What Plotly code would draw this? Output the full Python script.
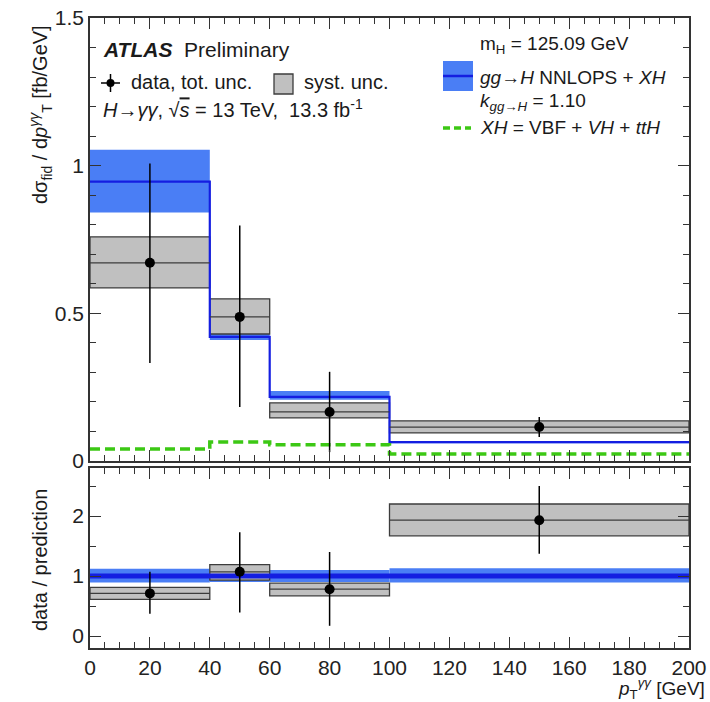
import plotly.graph_objects as go

# ---------------- data ----------------
bin_edges = [0, 40, 60, 100, 200]
data_val = [0.671, 0.488, 0.166, 0.115]
data_err_up = [0.336, 0.309, 0.136, 0.034]
data_err_dn = [0.339, 0.305, 0.136, 0.034]
syst_lo = [0.586, 0.430, 0.146, 0.095]
syst_hi = [0.759, 0.549, 0.197, 0.136]
pred_val = [0.946, 0.420, 0.217, 0.064]
pred_lo = [0.841, 0.410, 0.207, 0.060]
pred_hi = [1.054, 0.430, 0.237, 0.068]
xh_val = [0.041, 0.064, 0.055, 0.024]

ratio_val = [0.71, 1.07, 0.78, 1.93]
ratio_err_up = [0.36, 0.66, 0.62, 0.57]
ratio_err_dn = [0.34, 0.68, 0.61, 0.56]
ratio_syst_lo = [0.61, 0.93, 0.67, 1.67]
ratio_syst_hi = [0.81, 1.19, 0.88, 2.20]
ratio_pred_lo = [0.89, 0.90, 0.90, 0.89]
ratio_pred_hi = [1.12, 1.10, 1.10, 1.13]
ratio_pred_val = [1.0, 1.0, 1.0, 1.0]

x_tick_vals = [0, 20, 40, 60, 80, 100, 120, 140, 160, 180, 200]
y_tick_vals = [0, 0.5, 1, 1.5]
y_tick_text = ["0", "0.5", "1", "1.5"]
r_tick_vals = [0, 1, 2]

# ---------------- helpers ----------------
centers = [(a + b) / 2 for a, b in zip(bin_edges[:-1], bin_edges[1:])]
widths = [b - a for a, b in zip(bin_edges[:-1], bin_edges[1:])]

W, H = 710, 702
ML, MR, MT, MB = 90, 21, 18, 54
PW, PH = W - ML - MR, H - MT - MB


def px(xp):
    return (xp - ML) / PW


def py(yp):
    return (H - MB - yp) / PH


BLUE_BAND = "rgb(74,126,245)"
BLUE_LINE = "rgb(20,30,225)"
GREY_FILL = "rgb(192,192,192)"
GREY_LINE = "rgb(60,60,60)"
GREEN = "rgb(60,200,20)"
FONT = "Liberation Sans, Arial, sans-serif"


def step_xy(vals):
    return list(bin_edges), list(vals) + [vals[-1]]


def hsegments(vals):
    xs, ys = [], []
    for a, b, v in zip(bin_edges[:-1], bin_edges[1:], vals):
        xs += [a, b, None]
        ys += [v, v, None]
    return xs, ys


fig = go.Figure()


def add_panel(xa, ya, band_lo, band_hi, line_vals, line_w, s_lo, s_hi, vals, eu, ed, green=None):
    # prediction band
    fig.add_trace(go.Bar(x=centers, width=widths, base=band_lo,
                         y=[h - l for h, l in zip(band_hi, band_lo)],
                         marker=dict(color=BLUE_BAND, line=dict(width=0)),
                         xaxis=xa, yaxis=ya, showlegend=False, hoverinfo="skip"))
    sx, sy = step_xy(line_vals)
    fig.add_trace(go.Scatter(x=sx, y=sy, mode="lines", line=dict(color=BLUE_LINE, width=line_w, shape="hv"),
                             xaxis=xa, yaxis=ya, showlegend=False, hoverinfo="skip"))
    # syst boxes
    fig.add_trace(go.Bar(x=centers, width=widths, base=s_lo,
                         y=[h - l for h, l in zip(s_hi, s_lo)],
                         marker=dict(color=GREY_FILL, line=dict(width=1.3, color=GREY_LINE)),
                         xaxis=xa, yaxis=ya, showlegend=False, hoverinfo="skip"))
    hx, hy = hsegments(vals)
    fig.add_trace(go.Scatter(x=hx, y=hy, mode="lines", line=dict(color=GREY_LINE, width=1.3),
                             xaxis=xa, yaxis=ya, showlegend=False, hoverinfo="skip"))
    if green is not None:
        gx, gy = step_xy(green)
        fig.add_trace(go.Scatter(x=gx, y=gy, mode="lines",
                                 line=dict(color=GREEN, width=3.5, shape="hv", dash="10px,5px"),
                                 xaxis=xa, yaxis=ya, showlegend=False, hoverinfo="skip"))
    fig.add_trace(go.Scatter(x=centers, y=vals, mode="markers",
                             marker=dict(color="black", size=10),
                             error_y=dict(type="data", symmetric=False, array=eu, arrayminus=ed,
                                          width=0, thickness=1.5, color="black"),
                             xaxis=xa, yaxis=ya, showlegend=False, hoverinfo="skip"))


add_panel("x", "y", pred_lo, pred_hi, pred_val, 2.2, syst_lo, syst_hi,
          data_val, data_err_up, data_err_dn, green=xh_val)
add_panel("x2", "y2", ratio_pred_lo, ratio_pred_hi, ratio_pred_val, 5, ratio_syst_lo, ratio_syst_hi,
          ratio_val, ratio_err_up, ratio_err_dn)

axis_common = dict(showline=True, linecolor="#333", linewidth=1.5, mirror="ticks",
                   ticks="inside", ticklen=11, tickwidth=1.2, tickcolor="#333",
                   showgrid=False, zeroline=False, automargin=False,
                   tickfont=dict(family=FONT, size=21, color="#222"))

split_top = py(461)
split_bot = py(468)

fig.update_layout(
    width=W, height=H,
    margin=dict(l=ML, r=MR, t=MT, b=MB, autoexpand=False),
    paper_bgcolor="white", plot_bgcolor="white",
    barmode="overlay",
    font=dict(family=FONT, color="#222"),
    xaxis=dict(axis_common, domain=[0, 1], range=[0, 200], anchor="y",
               tickvals=x_tick_vals, showticklabels=False,
               minor=dict(ticks="inside", dtick=5, ticklen=6, tickcolor="#333", tickwidth=1)),
    yaxis=dict(axis_common, domain=[split_top, 1], range=[0, 1.5], anchor="x",
               tickvals=y_tick_vals, ticktext=y_tick_text,
               minor=dict(ticks="inside", dtick=0.1, ticklen=6, tickcolor="#333", tickwidth=1)),
    xaxis2=dict(axis_common, domain=[0, 1], range=[0, 200], anchor="y2",
                tickvals=x_tick_vals,
                minor=dict(ticks="inside", dtick=5, ticklen=6, tickcolor="#333", tickwidth=1)),
    yaxis2=dict(axis_common, domain=[0, split_bot], range=[-0.2, 2.8], anchor="x2",
                tickvals=r_tick_vals,
                minor=dict(ticks="inside", dtick=0.5, ticklen=6, tickcolor="#333", tickwidth=1)),
)

ann = []


def text(xp, yp, s, size=20, xanchor="left", angle=0):
    ann.append(dict(xref="paper", yref="paper", x=px(xp), y=py(yp), text=s, showarrow=False,
                    xanchor=xanchor, yanchor="middle", textangle=angle,
                    font=dict(family=FONT, size=size, color="#1a1a1a")))


text(101, 49, "<b><i>ATLAS</i></b>  Preliminary", size=21)
text(129, 82, "data, tot. unc.", size=20)
text(302, 82, "syst. unc.", size=20)
text(101, 108, "<i>H</i>→<i>γγ</i>, √<span style='text-decoration:overline'><i>s</i></span> = 13 TeV,  13.3 fb<sup>-1</sup>", size=20)
text(478, 45, "m<sub>H</sub> = 125.09 GeV", size=19)
text(478, 77, "<i>gg</i>→<i>H</i> NNLOPS + <i>XH</i>", size=19)
text(478, 102, "<i>k</i><sub><i>gg</i>→<i>H</i></sub> = 1.10", size=19)
text(478, 127, "<i>XH</i> = VBF + <i>VH</i> + <i>ttH</i>", size=19)
text(40, 115, "dσ<sub>fid</sub> / d<i>p</i><sup><i>γγ</i></sup><sub>T</sub> [fb/GeV]", size=20,
     xanchor="center", angle=-90)
text(40, 560, "data / prediction", size=20, xanchor="center", angle=-90)
ann.append(dict(xref="paper", yref="paper", x=px(707), y=py(688), text="<i>p</i><sub>T</sub><sup><i>γγ</i></sup> [GeV]",
                showarrow=False, xanchor="right", yanchor="middle",
                font=dict(family=FONT, size=19, color="#1a1a1a")))
fig.update_layout(annotations=ann)

shapes = []
# data marker legend
shapes.append(dict(type="line", xref="paper", yref="paper", x0=px(101), x1=px(120), y0=py(83), y1=py(83),
                   line=dict(color="black", width=1.5)))
shapes.append(dict(type="line", xref="paper", yref="paper", x0=px(110.5), x1=px(110.5), y0=py(74), y1=py(92),
                   line=dict(color="black", width=1.5)))
shapes.append(dict(type="circle", xref="paper", yref="paper", x0=px(106.5), x1=px(114.5), y0=py(79), y1=py(87),
                   fillcolor="black", line=dict(color="black", width=0)))
# syst legend box
shapes.append(dict(type="rect", xref="paper", yref="paper", x0=px(274), x1=px(293), y0=py(74), y1=py(94),
                   fillcolor=GREY_FILL, line=dict(color=GREY_LINE, width=1.3)))
# blue legend
shapes.append(dict(type="rect", xref="paper", yref="paper", x0=px(443), x1=px(473), y0=py(61), y1=py(91),
                   fillcolor=BLUE_BAND, line=dict(width=0)))
shapes.append(dict(type="line", xref="paper", yref="paper", x0=px(443), x1=px(473), y0=py(76), y1=py(76),
                   line=dict(color=BLUE_LINE, width=2.5)))
# green legend
shapes.append(dict(type="line", xref="paper", yref="paper", x0=px(443), x1=px(471), y0=py(128), y1=py(128),
                   line=dict(color=GREEN, width=3.5, dash="7px,4px")))
fig.update_layout(shapes=shapes)

fig.write_html("out.html", config={"displayModeBar": False},
               post_script="document.body.style.margin='0px';document.body.style.overflow='hidden';")
